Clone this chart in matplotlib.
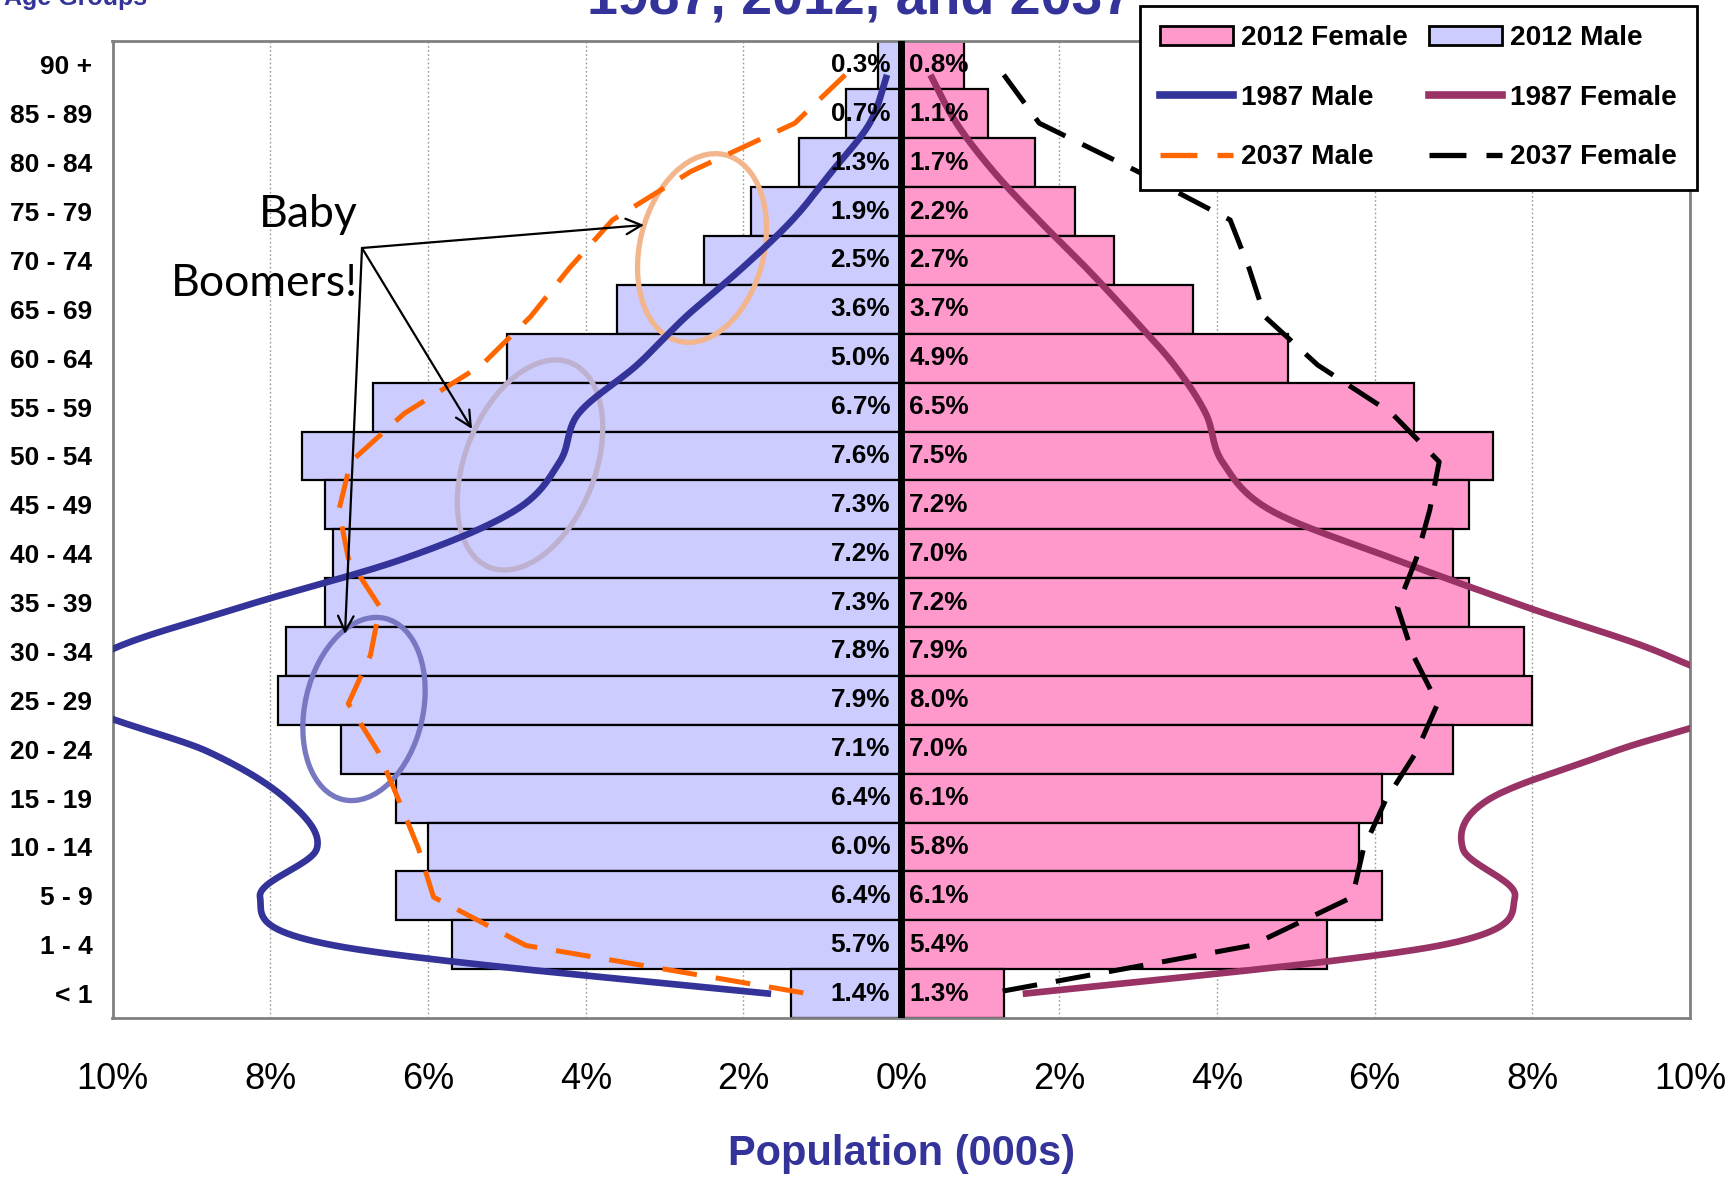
import numpy as np
import matplotlib
matplotlib.use("Agg")
import matplotlib.pyplot as plt
from matplotlib import font_manager as fm
from matplotlib.patches import Patch, Ellipse, FancyArrowPatch
from matplotlib.lines import Line2D

# ---------------- data (top row = oldest) ----------------
ages = ['90 +', '85 - 89', '80 - 84', '75 - 79', '70 - 74', '65 - 69', '60 - 64',
        '55 - 59', '50 - 54', '45 - 49', '40 - 44', '35 - 39', '30 - 34', '25 - 29',
        '20 - 24', '15 - 19', '10 - 14', '5 - 9', '1 - 4', '< 1']
male_2012 = [0.3, 0.7, 1.3, 1.9, 2.5, 3.6, 5.0, 6.7, 7.6, 7.3, 7.2, 7.3, 7.8, 7.9,
             7.1, 6.4, 6.0, 6.4, 5.7, 1.4]
female_2012 = [0.8, 1.1, 1.7, 2.2, 2.7, 3.7, 4.9, 6.5, 7.5, 7.2, 7.0, 7.2, 7.9, 8.0,
               7.0, 6.1, 5.8, 6.1, 5.4, 1.3]
male_1987 = [0.18, 0.4, 0.88, 1.38, 2.02, 2.73, 3.35, 4.09, 4.33, 4.89, 6.3, 8.36,
             10.15, 10.4, 8.78, 7.78, 7.41, 8.13, 7.19, 1.65]
female_1987 = [0.37, 0.7, 1.17, 1.74, 2.35, 2.92, 3.46, 3.86, 4.07, 4.68, 6.23, 7.92,
               9.7, 10.7, 9.02, 7.43, 7.12, 7.78, 6.83, 1.54]
male_2037 = [0.71, 1.35, 2.67, 3.66, 4.21, 4.7, 5.32, 6.3, 6.98, 7.13, 7.01, 6.61,
             6.73, 7.01, 6.63, 6.37, 6.12, 5.93, 4.76, 1.17]
female_2037 = [1.3, 1.75, 3.0, 4.17, 4.41, 4.61, 5.28, 6.22, 6.82, 6.7, 6.53, 6.29,
               6.49, 6.8, 6.53, 6.14, 5.86, 5.72, 4.44, 1.1]
xticks = [-10, -8, -6, -4, -2, 0, 2, 4, 6, 8, 10]

# ---------------- fonts ----------------
avail = {f.name for f in fm.fontManager.ttflist}
NARROW = 'Liberation Sans Narrow' in avail
BASE = 'Liberation Sans'
NAR = 'Liberation Sans Narrow' if NARROW else BASE
lab_fs = 21.5 if NARROW else 18.8
xt_fs = 31 if NARROW else 26
xl_fs = 33 if NARROW else 30
callout_font = 'Lato' if 'Lato' in avail else 'DejaVu Sans'

BLUE_TXT = '#333399'
MALE_C = '#CCCCFF'
FEMALE_C = '#FF99CC'
M87 = '#333399'
F87 = '#993366'
M37 = '#FF6600'
F37 = '#000000'

W, H = 1731, 1178
fig = plt.figure(figsize=(W / 100, H / 100), dpi=100, facecolor='white')
ax_l, ax_r, ax_t, ax_b = 112.5, 1690, 40.5, 1018
ax = fig.add_axes([ax_l / W, 1 - ax_b / H, (ax_r - ax_l) / W, (ax_b - ax_t) / H])

n = len(ages)
ypos = np.arange(n)[::-1]          # 90+ at top

ax.barh(ypos, -np.array(male_2012), height=1.0, color=MALE_C, edgecolor='black',
        linewidth=1.6, zorder=2)
ax.barh(ypos, female_2012, height=1.0, color=FEMALE_C, edgecolor='black',
        linewidth=1.6, zorder=2)
ax.axvline(0, color='black', lw=5, zorder=4)

ax.set_xlim(-10, 10)
ax.set_ylim(-0.5, n - 0.5)
ax.set_xticks(xticks)
ax.set_xticklabels([f'{abs(t)}%' for t in xticks], fontfamily=NAR, fontsize=xt_fs)
ax.set_yticks(ypos)
ax.set_yticklabels(ages, fontfamily=BASE, fontweight='bold', fontsize=19)
ax.tick_params(axis='x', length=0, pad=32)
ax.tick_params(axis='y', length=0, pad=14.5)
ax.set_axisbelow(True)
ax.xaxis.grid(True, linestyle=(0, (1.2, 1.8)), color='#9a9a9a', lw=1.0)
for s in ax.spines.values():
    s.set_color('#808080')
    s.set_linewidth(2)
ax.set_xlabel('Population (000s)', fontfamily=NAR, fontweight='bold', fontsize=xl_fs,
              color=BLUE_TXT, labelpad=26)

# ---------------- line series (secondary axis) ----------------
ax2 = ax.twinx()
ax2.set_ylim(-0.5, 19.71)
ax2.set_yticks([])
for s in ax2.spines.values():
    s.set_visible(False)


def smooth(xs, ys, k=24):
    P = np.column_stack([xs, ys]).astype(float)
    E = np.vstack([P[0], P, P[-1]])
    out = []
    for i in range(1, len(E) - 2):
        p0, p1, p2, p3 = E[i - 1], E[i], E[i + 1], E[i + 2]
        t = np.linspace(0, 1, k, endpoint=False)[:, None]
        b1 = p1 + (p2 - p0) / 6
        b2 = p2 - (p3 - p1) / 6
        out.append((1 - t) ** 3 * p1 + 3 * (1 - t) ** 2 * t * b1
                   + 3 * (1 - t) * t ** 2 * b2 + t ** 3 * p2)
    out.append(P[-1:])
    return np.vstack(out)


lypos = np.arange(n)[::-1]
sm = smooth(-np.array(male_1987), lypos)
ax2.plot(sm[:, 0], sm[:, 1], color=M87, lw=4.8, solid_capstyle='butt', zorder=3)
sf = smooth(np.array(female_1987), lypos)
ax2.plot(sf[:, 0], sf[:, 1], color=F87, lw=4.8, solid_capstyle='butt', zorder=3)
ax2.plot(-np.array(male_2037), lypos, color=M37, lw=3.6, dashes=(7, 3.8), zorder=3)
ax2.plot(np.array(female_2037), lypos, color=F37, lw=3.6, dashes=(7, 3.8), zorder=3)

# data labels
for yy, m, f in zip(ypos, male_2012, female_2012):
    ax2.text(-0.14, yy, f'{m:.1f}%', transform=ax.transData, ha='right', va='center',
             fontfamily=NAR, fontweight='bold', fontsize=lab_fs, zorder=6)
    ax2.text(0.1, yy, f'{f:.1f}%', transform=ax.transData, ha='left', va='center',
             fontfamily=NAR, fontweight='bold', fontsize=lab_fs, zorder=6)

# ---------------- legend ----------------
handles = [
    Patch(facecolor=FEMALE_C, edgecolor='black', lw=2),
    Line2D([], [], color=M87, lw=5.5),
    Line2D([], [], color=M37, lw=3.8, dashes=(7, 3.8)),
    Patch(facecolor=MALE_C, edgecolor='black', lw=2),
    Line2D([], [], color=F87, lw=5.5),
    Line2D([], [], color=F37, lw=3.8, dashes=(7, 3.8)),
]
labels = ['2012 Female', '1987 Male', '2037 Male', '2012 Male', '1987 Female', '2037 Female']
leg = ax2.legend(handles, labels, ncol=2, loc='upper right',
                 bbox_to_anchor=(1697 / W, 1 - 5.5 / H), bbox_transform=fig.transFigure,
                 prop=fm.FontProperties(family=BASE, weight='bold', size=20.2),
                 frameon=True, fancybox=False, framealpha=1, edgecolor='black',
                 handlelength=2.6, handleheight=0.7, handletextpad=0.3,
                 columnspacing=0.75, labelspacing=1.2, borderpad=0.7, borderaxespad=0)
leg.get_frame().set_linewidth(2)
leg.set_zorder(10)

# ---------------- annotations (figure pixel positions) ----------------
def P(x, y):
    return (x / 100, (H - y) / 100)


ellipses = [((702, 248), 124, 192, -14, '#F2B58C'),
            ((530, 465), 130, 220, -21.6, '#BDB1CF'),
            ((364, 709), 118, 186, -13, '#7878C2')]
for (cx, cy), w, h, a, c in ellipses:
    e = Ellipse(P(cx, cy), w / 100, h / 100, angle=a, fill=False, edgecolor=c,
                lw=3.8, transform=fig.dpi_scale_trans, clip_on=False, zorder=2.5)
    ax.add_artist(e)

origin = (362, 248)
for tgt in [(644, 225), (472, 429), (345, 634)]:
    arr = FancyArrowPatch(P(*origin), P(*tgt), arrowstyle='->', mutation_scale=28,
                          lw=1.6, color='black', transform=fig.dpi_scale_trans,
                          shrinkA=0, shrinkB=0)
    fig.add_artist(arr)

fig.text(*P(358, 227.5), 'Baby', transform=fig.dpi_scale_trans, ha='right',
         va='baseline', fontfamily=callout_font, fontsize=32)
fig.text(*P(358, 296), 'Boomers!', transform=fig.dpi_scale_trans, ha='right',
         va='baseline', fontfamily=callout_font, fontsize=32)

# titles (clipped at the top of the image, as in the reference)
fig.text(860.5 / W, 1 - 13 / H, '1987, 2012, and 2037', ha='center', va='baseline',
         fontfamily=BASE, fontweight='bold', fontsize=40, color=BLUE_TXT)
fig.text(4 / W, 1 - 5 / H, 'Age Groups', ha='left', va='baseline',
         fontfamily=BASE, fontweight='bold', fontsize=18, color=BLUE_TXT)

fig.savefig('out.png', dpi=100, facecolor='white')
